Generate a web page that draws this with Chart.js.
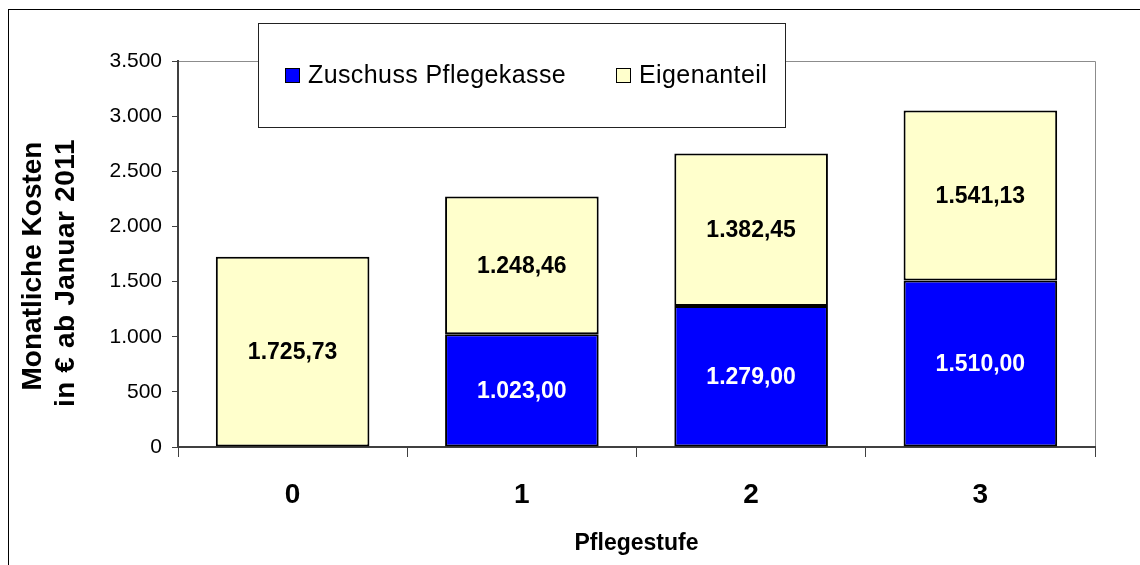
<!DOCTYPE html>
<html>
<head>
<meta charset="utf-8">
<script src="https://cdn.jsdelivr.net/npm/chart.js@4.4.1/dist/chart.umd.min.js"></script>
<style>
  html, body { margin: 0; padding: 0; background: #ffffff; }
  #wrap { position: relative; width: 1140px; height: 565px; }
</style>
</head>
<body>
<div id="wrap"><canvas id="c" width="1140" height="565"></canvas></div>
<script>
// ---- data ----
const categories = ['0', '1', '2', '3'];
const zuschussPflegekasse = [null, 1023.00, 1279.00, 1510.00];
const eigenanteil = [1725.73, 1248.46, 1382.45, 1541.13];
const seriesNames = ['Zuschuss Pflegekasse', 'Eigenanteil'];
const yTitleLines = ['Monatliche Kosten', 'in € ab Januar 2011'];
const xTitle = 'Pflegestufe';
const yMin = 0, yMax = 3500, yStep = 500;

const FONT = '"Liberation Sans", Arial, Helvetica, sans-serif';

function fmtDe(v, dec) {
  const fixed = Math.abs(v).toFixed(dec);
  let [intPart, frac] = fixed.split('.');
  intPart = intPart.replace(/\B(?=(\d{3})+(?!\d))/g, '.');
  return (v < 0 ? '-' : '') + intPart + (frac ? ',' + frac : '');
}

const decorPlugin = {
  id: 'decor',
  beforeDraw(chart) {
    const ctx = chart.ctx;
    ctx.save();
    ctx.fillStyle = '#ffffff';
    ctx.fillRect(0, 0, chart.width, chart.height);
    // outer frame
    ctx.strokeStyle = '#000000';
    ctx.lineWidth = 1;
    ctx.strokeRect(8.5, 9.5, 1300, 1000);
    // plot area border (top and right)
    const a = chart.chartArea;
    ctx.strokeStyle = '#8c8c8c';
    ctx.beginPath();
    ctx.moveTo(a.left, a.top + 0.5);
    ctx.lineTo(a.right + 0.5, a.top + 0.5);
    ctx.lineTo(a.right + 0.5, a.bottom);
    ctx.stroke();
    ctx.restore();
  },
  afterDatasetsDraw(chart) {
    const ctx = chart.ctx;
    ctx.save();
    // data labels
    ctx.font = 'bold 23px ' + FONT;
    ctx.textAlign = 'center';
    ctx.textBaseline = 'middle';
    chart.data.datasets.forEach((ds, di) => {
      const meta = chart.getDatasetMeta(di);
      meta.data.forEach((el, i) => {
        const v = ds.data[i];
        if (v === null || v === undefined || v === 0) return;
        ctx.fillStyle = ds.labelColor;
        ctx.fillText(fmtDe(v, 2), el.x, (el.y + el.base) / 2 + 1);
      });
    });
    ctx.restore();
  },
  afterDraw(chart) {
    const ctx = chart.ctx;
    ctx.save();
    // y axis title (two lines, rotated)
    ctx.font = 'bold 28px ' + FONT;
    ctx.fillStyle = '#000000';
    ctx.textAlign = 'center';
    ctx.textBaseline = 'middle';
    const pos = [[33, 266, '0px'], [66, 273, '0.6px']];
    yTitleLines.forEach((t, i) => {
      ctx.save();
      ctx.letterSpacing = pos[i][2];
      ctx.translate(pos[i][0], pos[i][1]);
      ctx.rotate(-Math.PI / 2);
      ctx.fillText(t, 0, 0);
      ctx.restore();
    });
    // legend box
    const lx = 258, ly = 23, lw = 527, lh = 104;
    ctx.fillStyle = '#ffffff';
    ctx.fillRect(lx, ly, lw, lh);
    ctx.strokeStyle = '#222222';
    ctx.lineWidth = 1;
    ctx.strokeRect(lx + 0.5, ly + 0.5, lw, lh);
    const items = [{x: 285}, {x: 616}];
    ctx.font = '25px ' + FONT;
    ctx.letterSpacing = '0.4px';
    ctx.textAlign = 'left';
    ctx.textBaseline = 'middle';
    chart.data.datasets.forEach((ds, di) => {
      const ix = items[di].x;
      ctx.fillStyle = ds.backgroundColor;
      ctx.fillRect(ix, 68, 15, 15);
      ctx.strokeStyle = '#000000';
      ctx.strokeRect(ix + 0.5, 68.5, 14, 14);
      ctx.fillStyle = '#000000';
      ctx.fillText(ds.label, ix + 23, 76);
    });
    ctx.restore();
  }
};

new Chart(document.getElementById('c'), {
  type: 'bar',
  data: {
    labels: categories,
    datasets: [
      {
        label: seriesNames[0],
        data: zuschussPflegekasse,
        backgroundColor: '#0000ff',
        borderColor: '#000000',
        borderWidth: 2,
        borderSkipped: false,
        labelColor: '#ffffff',
        categoryPercentage: 1.0,
        barPercentage: 0.67
      },
      {
        label: seriesNames[1],
        data: eigenanteil,
        backgroundColor: '#ffffcc',
        borderColor: '#000000',
        borderWidth: 2,
        borderSkipped: false,
        labelColor: '#000000',
        categoryPercentage: 1.0,
        barPercentage: 0.67
      }
    ]
  },
  options: {
    responsive: false,
    animation: false,
    devicePixelRatio: 1,
    layout: { padding: { left: 0, top: 61, right: 45, bottom: 0 } },
    plugins: { legend: { display: false }, tooltip: { enabled: false }, title: { display: false } },
    scales: {
      x: {
        stacked: true,
        afterFit(scale) { scale.height = 118; },
        grid: { offset: true, drawOnChartArea: false, drawTicks: true, tickLength: 10, color: '#404040', lineWidth: 1 },
        border: { display: true, color: '#404040', width: 2 },
        ticks: { color: '#000000', padding: 21, font: { family: FONT, size: 28, weight: 'bold', lineHeight: 1.2 } },
        title: { display: true, text: xTitle, color: '#000000', padding: { top: 0, bottom: 8 }, font: { family: FONT, size: 23, weight: 'bold', lineHeight: 1.2 } }
      },
      y: {
        stacked: true,
        min: yMin,
        max: yMax,
        afterFit(scale) { scale.width = 178; },
        grid: { drawOnChartArea: false, drawTicks: true, tickLength: 6, color: '#404040', lineWidth: 1 },
        border: { display: true, color: '#404040', width: 2 },
        ticks: {
          stepSize: yStep,
          color: '#000000',
          padding: 10,
          font: { family: FONT, size: 21 },
          callback: (v) => fmtDe(v, 0)
        },
        title: { display: false }
      }
    }
  },
  plugins: [decorPlugin]
});
</script>
</body>
</html>
